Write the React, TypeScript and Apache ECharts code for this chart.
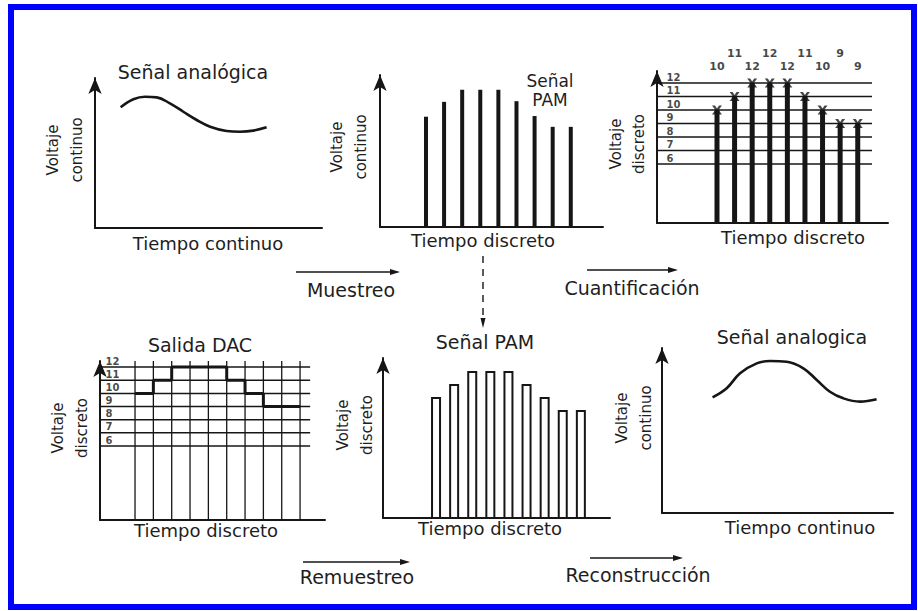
import React, { useEffect, useRef } from 'react';
import * as echarts from 'echarts';

const FONT = '"DejaVu Sans", "Liberation Sans", Arial, sans-serif';
const INK = '#161616';
const TEXT = '#1e1e1e';

// ---- data ----
const sampleTimes = [1, 2, 3, 4, 5, 6, 7, 8, 9];
const pamSamples = [9.8, 10.9, 11.8, 11.8, 11.8, 10.95, 9.85, 9.05, 9.05];
const quantizedLevels = [10, 11, 12, 12, 12, 11, 10, 9, 9];
const levelTicks = [12, 11, 10, 9, 8, 7, 6];
const dacBoundaries = [0, 1, 2, 3, 4, 5, 6, 7, 8, 9];

const analogInTime = [11.3, 16.9, 22.0, 27.2, 33.0, 38.9, 44.8, 50.7, 58.0, 63.9, 69.7, 75.6];
const analogInVolt = [8.05, 8.58, 8.75, 8.71, 8.31, 7.75, 7.2, 6.75, 6.47, 6.42, 6.49, 6.71];
const analogOutTime = [21.9, 28.0, 33.8, 41.0, 46.8, 54.0, 61.2, 67.0, 72.7, 78.5, 85.7, 92.9];
const analogOutVolt = [7.01, 7.56, 8.47, 9.07, 9.21, 9.17, 8.77, 8.06, 7.35, 6.95, 6.75, 6.89];

// rows (in level units) of the sample-value annotations above panel 3
const annotationRows = [13.19, 14.22];

// ---- layout ----
const panels = [
  { left: 95, top: 78, width: 227, height: 150, xMin: 0, xMax: 100, yMin: 0, yMax: 10 },
  { left: 380, top: 75, width: 223, height: 152, xMin: -1.54, xMax: 10.78, yMin: 1.63, yMax: 12.89 },
  { left: 657, top: 71, width: 231, height: 152, xMin: -2.41, xMax: 10.72, yMin: 1.63, yMax: 12.89 },
  { left: 100, top: 361, width: 225, height: 159, xMin: -1.91, xMax: 10.36, yMin: 0.38, yMax: 12.46 },
  { left: 383, top: 358, width: 227, height: 160, xMin: -1.93, xMax: 10.61, yMin: 0.69, yMax: 13.0 },
  { left: 662, top: 348, width: 231, height: 165, xMin: 0, xMax: 100, yMin: 0, yMax: 10 },
];
const p3LevelEnd = 9.81;
const p3LabelX = -1.9;
const p4LevelEnd = 9.55;
const p4LabelX = -1.64;

const X_MARK = 'path://M0,0L3,0L5,3.2L7,0L10,0L6.6,5L10,10L7,10L5,6.8L3,10L0,10L3.4,5Z';

function text(x: number, y: number, t: string, size: number, extra: any = {}) {
  return {
    type: 'text',
    x,
    y,
    silent: true,
    ...extra,
    style: {
      text: t,
      fill: TEXT,
      fontFamily: FONT,
      fontSize: size,
      align: 'center',
      verticalAlign: 'middle',
      lineHeight: size * 1.2,
      ...(extra.style || {}),
    },
  };
}

function vname(x: number, y: number, t: string, lh = 24) {
  return text(x, y, t, 15, { rotation: Math.PI / 2, style: { lineHeight: lh } });
}

function arrow(x1: number, x2: number, y: number) {
  return [
    { type: 'line', silent: true, shape: { x1, y1: y, x2: x2 - 6, y2: y }, style: { stroke: INK, lineWidth: 1.6 } },
    { type: 'polygon', silent: true, shape: { points: [[x2, y], [x2 - 10, y - 3], [x2 - 10, y + 3]] }, style: { fill: INK } },
  ];
}

function levelLines(axis: number, end: number) {
  return levelTicks.map((k) => ({
    type: 'line',
    xAxisIndex: axis,
    yAxisIndex: axis,
    silent: true,
    symbol: 'none',
    data: [[panels[axis].xMin, k], [end, k]],
    lineStyle: { color: INK, width: 1.5 },
    z: 2,
  }));
}

function levelLabels(axis: number, x: number) {
  return {
    type: 'scatter',
    xAxisIndex: axis,
    yAxisIndex: axis,
    silent: true,
    symbolSize: 1,
    itemStyle: { color: 'transparent' },
    data: levelTicks.map((k) => [x, k]),
    label: {
      show: true,
      position: 'right',
      distance: 0,
      offset: [0, -6],
      formatter: (p: any) => String(p.value[1]),
      fontFamily: FONT,
      fontSize: 10,
      fontWeight: 'bold',
      color: INK,
    },
    z: 5,
  };
}

export default function App() {
  const ref = useRef<HTMLDivElement>(null);

  useEffect(() => {
    document.body.style.margin = '0';
    if (!ref.current) return;
    const chart = echarts.init(ref.current, undefined, { renderer: 'svg' });

    const axisLine = { show: true, onZero: false, lineStyle: { color: INK, width: 2 } };

    const series: any[] = [
      // Panel 1: analog input
      {
        type: 'line', xAxisIndex: 0, yAxisIndex: 0, silent: true, symbol: 'none', smooth: 0.4,
        data: analogInTime.map((t, i) => [t, analogInVolt[i]]),
        lineStyle: { color: INK, width: 2.6 },
      },
      // Panel 2: PAM samples
      {
        type: 'bar', xAxisIndex: 1, yAxisIndex: 1, silent: true, barWidth: 4,
        data: sampleTimes.map((t, i) => [t, pamSamples[i]]),
        itemStyle: { color: INK },
      },
      // Panel 3: quantized stems
      ...levelLines(2, p3LevelEnd),
      {
        type: 'bar', xAxisIndex: 2, yAxisIndex: 2, silent: true, barWidth: 5,
        data: sampleTimes.map((t, i) => [t, quantizedLevels[i]]),
        itemStyle: { color: INK }, z: 3,
      },
      {
        type: 'scatter', xAxisIndex: 2, yAxisIndex: 2, silent: true, symbol: X_MARK, symbolSize: [10, 9],
        data: sampleTimes.map((t, i) => [t, quantizedLevels[i]]),
        itemStyle: { color: INK }, z: 4,
      },
      levelLabels(2, p3LabelX),
      {
        type: 'scatter', xAxisIndex: 2, yAxisIndex: 2, silent: true, clip: false, symbolSize: 1,
        itemStyle: { color: 'transparent' },
        data: sampleTimes.map((t, i) => [t, annotationRows[i % 2], quantizedLevels[i]]),
        label: {
          show: true, position: 'inside', formatter: (p: any) => String(p.value[2]),
          fontFamily: FONT, fontSize: 11, fontWeight: 'bold', color: INK,
        },
      },
      // Panel 4: DAC output
      ...levelLines(3, p4LevelEnd),
      ...dacBoundaries.map((b) => ({
        type: 'line', xAxisIndex: 3, yAxisIndex: 3, silent: true, symbol: 'none',
        data: [[b, panels[3].yMin], [b, panels[3].yMax]],
        lineStyle: { color: INK, width: 1.3 }, z: 2,
      })),
      levelLabels(3, p4LabelX),
      {
        type: 'line', xAxisIndex: 3, yAxisIndex: 3, silent: true, symbol: 'none', step: 'end',
        data: [
          ...quantizedLevels.map((q, i) => [dacBoundaries[i], q]),
          [dacBoundaries[dacBoundaries.length - 1], quantizedLevels[quantizedLevels.length - 1]],
        ],
        lineStyle: { color: INK, width: 3 }, z: 4,
      },
      // Panel 5: resampled PAM
      {
        type: 'bar', xAxisIndex: 4, yAxisIndex: 4, silent: true, barWidth: 10,
        data: sampleTimes.map((t, i) => [t, quantizedLevels[i]]),
        itemStyle: { color: '#ffffff', borderColor: INK, borderWidth: 2 },
      },
      // Panel 6: reconstructed analog
      {
        type: 'line', xAxisIndex: 5, yAxisIndex: 5, silent: true, symbol: 'none', smooth: 0.4,
        data: analogOutTime.map((t, i) => [t, analogOutVolt[i]]),
        lineStyle: { color: INK, width: 2.6 },
      },
    ];

    const graphic: any[] = [
      { type: 'rect', silent: true, shape: { x: 11, y: 7, width: 903, height: 600 }, style: { fill: 'none', stroke: '#0000ff', lineWidth: 6 }, z: 100 },
      // Panel 1
      text(193, 72, 'Señal analógica', 19),
      text(208, 243, 'Tiempo continuo', 18),
      vname(65, 150, 'Voltaje\ncontinuo'),
      // Panel 2
      text(550, 81, 'Señal', 17, { style: { lineHeight: 17 } }),
      text(550, 100, 'PAM', 17, { style: { lineHeight: 17 } }),
      text(483, 240, 'Tiempo discreto', 18),
      vname(349, 147, 'Voltaje\ncontinuo'),
      // Panel 3
      text(793, 237, 'Tiempo discreto', 18),
      vname(627, 144, 'Voltaje\ndiscreto', 23),
      // Panel 4
      text(200, 345, 'Salida DAC', 19),
      text(206, 530, 'Tiempo discreto', 18),
      vname(70, 428, 'Voltaje\ndiscreto'),
      // Panel 5
      text(485, 342, 'Señal PAM', 19),
      text(490, 528, 'Tiempo discreto', 18),
      vname(355, 425, 'Voltaje\ndiscreto'),
      // Panel 6
      text(792, 337, 'Señal analogica', 19),
      text(800, 527, 'Tiempo continuo', 18),
      vname(634, 418, 'Voltaje\ncontinuo'),
      // Process arrows
      ...arrow(296, 400, 272),
      text(351, 290, 'Muestreo', 19),
      ...arrow(587, 678, 270),
      text(632, 288, 'Cuantificación', 19),
      ...arrow(303, 410, 562),
      text(357, 577, 'Remuestreo', 19),
      ...arrow(590, 683, 558),
      text(638, 575, 'Reconstrucción', 19),
      // dashed link
      { type: 'line', silent: true, shape: { x1: 483, y1: 256, x2: 483, y2: 320 }, style: { stroke: INK, lineWidth: 1.4, lineDash: [7, 6] } },
      { type: 'polygon', silent: true, shape: { points: [[483, 328], [480.5, 318], [485.5, 318]] }, style: { fill: INK } },
    ];

    chart.setOption({
      animation: false,
      backgroundColor: '#ffffff',
      grid: panels.map((p) => ({ left: p.left, top: p.top, width: p.width, height: p.height, containLabel: false })),
      xAxis: panels.map((p, i) => ({
        type: 'value', gridIndex: i, min: p.xMin, max: p.xMax,
        axisLine, axisTick: { show: false }, axisLabel: { show: false }, splitLine: { show: false },
      })),
      yAxis: panels.map((p, i) => ({
        type: 'value', gridIndex: i, min: p.yMin, max: p.yMax,
        axisLine: { ...axisLine, symbol: ['none', 'arrow'], symbolSize: [10, 16] },
        axisTick: { show: false }, axisLabel: { show: false }, splitLine: { show: false },
      })),
      series,
      graphic,
    });

    return () => chart.dispose();
  }, []);

  return <div ref={ref} style={{ width: 918, height: 611 }} />;
}
